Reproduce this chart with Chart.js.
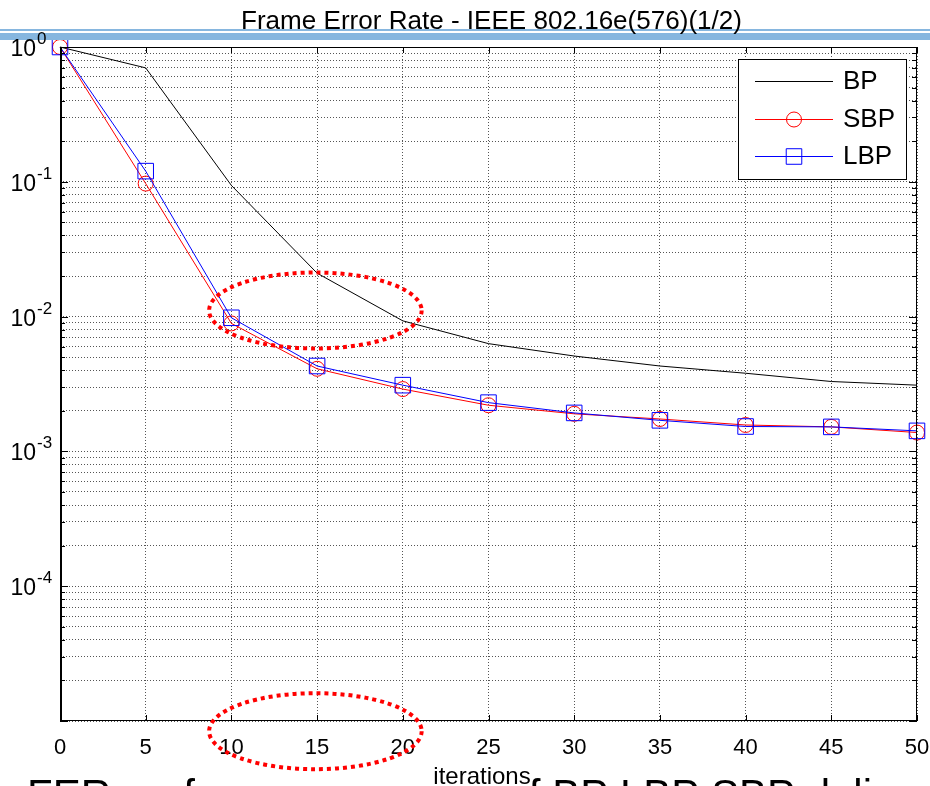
<!DOCTYPE html>
<html>
<head>
<meta charset="utf-8">
<script src="https://cdn.jsdelivr.net/npm/chart.js@4.4.0/dist/chart.umd.min.js"></script>
<style>
    html, body { margin: 0; padding: 0; background: #fff; overflow: hidden; }
    .chart { width: 930px; height: 786px; }
</style>
</head>
<body>
<div class="chart"><canvas id="ferChart" width="930" height="786"></canvas></div>
<script>
// iterations on the x axis
const iterations = [0, 5, 10, 15, 20, 25, 30, 35, 40, 45, 50];
// frame error rate per decoder
const bpFer = [1.0, 0.70, 0.094, 0.021, 0.0093, 0.0063, 0.0051, 0.0043, 0.0038, 0.0033, 0.0031];
const sbpFer = [1.0, 0.097, 0.0089, 0.0041, 0.0029, 0.0022, 0.0019, 0.00174, 0.00157, 0.00152, 0.00138];
const lbpFer = [1.0, 0.12, 0.0098, 0.0043, 0.0031, 0.0023, 0.00193, 0.0017, 0.00153, 0.00152, 0.00142];

const xTicks = [0, 5, 10, 15, 20, 25, 30, 35, 40, 45, 50];
const yDecades = [-5, -4, -3, -2, -1, 0];
const yLabelDecades = [0, -1, -2, -3, -4];
const legendNames = ["BP", "SBP", "LBP"];

// red dotted ovals (annotation), in data units
const ovalX = [14.9, 14.9];
const ovalY = [0.0111, 8.4e-6];

const FONT = "'Liberation Sans', Arial, Helvetica, sans-serif";

const toPoints = (vals) => iterations.map((x, i) => ({ x, y: vals[i] }));

const yTickValues = [];
yDecades.forEach((d) => {
    if (d === 0) { yTickValues.push(1); return; }
    for (let m = 1; m <= 9; m++) yTickValues.push(m * Math.pow(10, d));
});

const data = {
    datasets: [
        {
            label: legendNames[0],
            data: toPoints(bpFer),
            borderColor: "#000000",
            borderWidth: 1,
            pointRadius: 0,
            tension: 0,
            clip: false,
            order: 2,
        },
        {
            label: legendNames[1],
            data: toPoints(sbpFer),
            borderColor: "#ff0000",
            borderWidth: 1,
            pointStyle: "circle",
            pointRadius: 7.5,
            pointBorderColor: "#ff0000",
            pointBackgroundColor: "rgba(0,0,0,0)",
            pointBorderWidth: 1,
            tension: 0,
            clip: false,
            order: 1,
        },
        {
            label: legendNames[2],
            data: toPoints(lbpFer),
            borderColor: "#0000ff",
            borderWidth: 1,
            pointStyle: "rect",
            pointRadius: 11,
            pointBorderColor: "#0000ff",
            pointBackgroundColor: "rgba(0,0,0,0)",
            pointBorderWidth: 1,
            tension: 0,
            clip: false,
            order: 0,
        },
    ],
};

const gridLook = { color: "#555555", lineWidth: 1, drawTicks: false };

const frame = {
    id: "frame",
    beforeDraw(chart) {
        const c = chart.ctx;
        c.save();
        c.fillStyle = "#ffffff";
        c.fillRect(0, 0, chart.width, chart.height);
        c.restore();
    },
    afterDraw(chart) {
        const c = chart.ctx;
        const a = chart.chartArea;
        const xs = chart.scales.x;
        const ys = chart.scales.y;
        c.save();

        // slide decoration band
        c.fillStyle = "#86b6df";
        c.fillRect(0, 29, chart.width, 2);
        c.fillRect(0, 33, chart.width, 7);

        // title
        c.fillStyle = "#000";
        c.font = "25px " + FONT;
        c.textBaseline = "alphabetic";
        c.textAlign = "left";
        const title = "Frame Error Rate - IEEE 802.16e(576)(1/2)";
        const tw = c.measureText(title).width;
        c.save();
        c.translate(241, 29);
        c.scale(501 / tw, 1);
        c.fillText(title, 0, 0);
        c.restore();

        // box
        c.strokeStyle = "#000";
        c.lineWidth = 1;
        c.strokeRect(a.left + 0.5, a.top + 0.5, a.right - a.left - 1, a.bottom - a.top - 1);
        c.lineWidth = 2;
        c.beginPath();
        c.moveTo(a.left + 1, a.top);
        c.lineTo(a.left + 1, a.bottom);
        c.stroke();

        // inward tick marks
        c.lineWidth = 1;
        c.beginPath();
        ys.ticks.forEach((t) => {
            const py = Math.round(ys.getPixelForValue(t.value)) + 0.5;
            const major = Math.abs(Math.log10(t.value) - Math.round(Math.log10(t.value))) < 1e-9;
            const len = major ? 8 : 5;
            c.moveTo(a.left, py); c.lineTo(a.left + len, py);
            c.moveTo(a.right, py); c.lineTo(a.right - len, py);
        });
        xs.ticks.forEach((t) => {
            const px = Math.round(xs.getPixelForValue(t.value)) + 0.5;
            c.moveTo(px, a.top); c.lineTo(px, a.top + 6);
            c.moveTo(px, a.bottom); c.lineTo(px, a.bottom - 6);
        });
        c.stroke();

        // y labels 10^n
        yLabelDecades.forEach((d) => {
            const py = ys.getPixelForValue(Math.pow(10, d));
            c.font = "23px " + FONT;
            c.textAlign = "right";
            c.textBaseline = "alphabetic";
            c.fillText("10", 36, py + 9);
            c.font = "17px " + FONT;
            c.textAlign = "left";
            c.fillText(String(d), 37, py - 3);
        });

        // x labels
        c.font = "22px " + FONT;
        c.textAlign = "center";
        c.textBaseline = "alphabetic";
        xTicks.forEach((v) => {
            c.fillText(String(v), xs.getPixelForValue(v), 754);
        });

        // bottom slide caption (cut off by the frame)
        c.font = "42px " + FONT;
        c.textAlign = "left";
        c.fillText("FER performance curves of BP LBP SBP delivered", 27, 809);

        // x title
        c.font = "24px " + FONT;
        c.textAlign = "center";
        c.fillText("iterations", 482, 784);

        // legend
        const lx = 738, ly = 59, lw = 168, lh = 120;
        c.fillStyle = "#fff";
        c.fillRect(lx, ly, lw, lh);
        c.strokeStyle = "#000";
        c.lineWidth = 1;
        c.strokeRect(lx + 0.5, ly + 0.5, lw, lh);
        const rowY = [81, 119, 156];
        chart.data.datasets.forEach((ds, i) => {
            const y = rowY[i] + 0.5;
            c.strokeStyle = ds.borderColor;
            c.lineWidth = 1;
            c.beginPath();
            c.moveTo(755, y); c.lineTo(833, y);
            c.stroke();
            if (ds.pointRadius > 0) {
                c.fillStyle = "rgba(0,0,0,0)";
                c.strokeStyle = ds.pointBorderColor;
                Chart.helpers.drawPoint(c, {
                    pointStyle: ds.pointStyle,
                    radius: ds.pointRadius,
                    borderWidth: 1,
                    rotation: 0,
                }, 794, y);
            }
            c.fillStyle = "#000";
            c.font = "26px " + FONT;
            c.textAlign = "left";
            c.textBaseline = "middle";
            c.fillText(ds.label, 843, rowY[i] + 1);
        });

        // red dotted ovals
        c.strokeStyle = "#ff0000";
        c.lineWidth = 4;
        c.setLineDash([4, 4]);
        ovalX.forEach((ox, i) => {
            const cx = xs.getPixelForValue(ox);
            const cy = ys.getPixelForValue(ovalY[i]);
            const rx = xs.getPixelForValue(ox + 6.2) - cx;
            c.beginPath();
            c.ellipse(cx, cy, rx, 38, 0, 0, Math.PI * 2);
            c.stroke();
        });
        c.restore();
    },
};

const options = {
    responsive: false,
    animation: false,
    devicePixelRatio: 1,
    layout: { padding: { top: 47, right: 13, left: 0, bottom: 0 } },
    plugins: {
        legend: { display: false },
        tooltip: { enabled: false },
        title: { display: false },
    },
    scales: {
        x: {
            type: "linear",
            min: 0,
            max: 50,
            afterBuildTicks: (s) => { s.ticks = xTicks.map((v) => ({ value: v })); },
            afterFit: (s) => { s.height = 65; },
            ticks: { display: false },
            grid: gridLook,
            border: { display: false, dash: [1, 2] },
        },
        y: {
            type: "logarithmic",
            min: 1e-5,
            max: 1,
            afterBuildTicks: (s) => { s.ticks = yTickValues.map((v) => ({ value: v })); },
            afterFit: (s) => { s.width = 60; },
            ticks: { display: false },
            grid: gridLook,
            border: { display: false, dash: [1, 2] },
        },
    },
};

new Chart(document.getElementById("ferChart").getContext("2d"), {
    type: "line",
    data,
    options,
    plugins: [frame],
});
</script>
</body>
</html>
